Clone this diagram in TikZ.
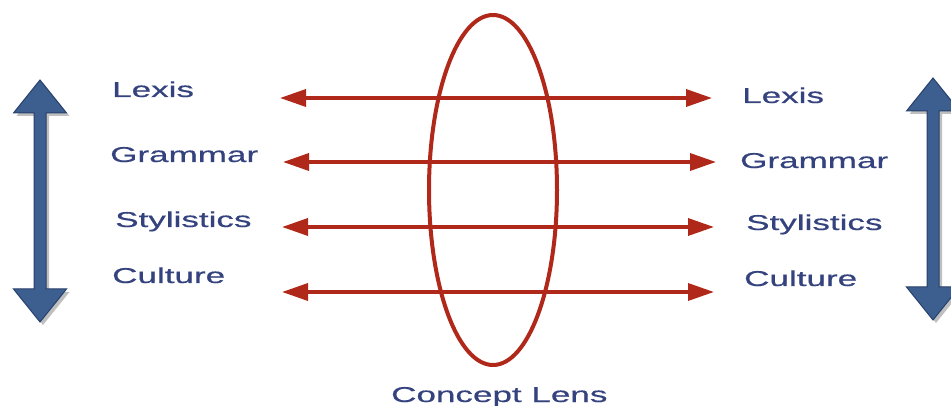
\documentclass[tikz,border=0pt]{standalone}
\usepackage{fontspec}
\setmainfont{Liberation Sans}[FakeBold=0.4]
\usetikzlibrary{arrows.meta}
\definecolor{navy}{HTML}{34427E}
\definecolor{lensred}{HTML}{B0281A}
\definecolor{barblue}{HTML}{3D5F90}
\definecolor{bardark}{HTML}{27406B}
\newcommand{\wide}[1]{\scalebox{1.63}[1]{#1}}
% vertical double arrow: x, top y, bottom y
\newcommand{\vbar}[3]{\fill[black!25] ({#1+3},{#2+3}) -- ({#1+29.5},{#2+36}) -- ({#1+9},{#2+36}) -- ({#1+9},{#3-30}) -- ({#1+29.5},{#3-30}) -- ({#1+3},{#3+3}) -- ({#1-23.5},{#3-30}) -- ({#1-3},{#3-30}) -- ({#1-3},{#2+36}) -- ({#1-23.5},{#2+36}) -- cycle;
\draw[bardark, fill=barblue, line width=1pt] (#1,#2) -- ({#1+26.5},{#2+33}) -- ({#1+6},{#2+33}) -- ({#1+6},{#3-33}) -- ({#1+26.5},{#3-33}) -- (#1,#3) -- ({#1-26.5},{#3-33}) -- ({#1-6},{#3-33}) -- ({#1-6},{#2+33}) -- ({#1-26.5},{#2+33}) -- cycle;}

\begin{document}
\begin{tikzpicture}[x=1pt, y=-1pt,
  label/.style={anchor=base west, inner sep=0pt, text=navy, font=\fontsize{21.5}{24}\selectfont},
  link/.style={lensred, line width=3.5pt, {Triangle[length=26pt, width=17pt]}-{Triangle[length=26pt, width=17pt]}}]
\useasboundingbox (0,0) rectangle (951,406);
\vbar{40}{80}{322}
\vbar{933}{78}{320}
% lens
\draw[lensred, line width=4pt] (493,190) ellipse [x radius=64, y radius=175];
% left labels
\node[label] (lexisL) at (112,97) {\wide{Lexis}};
\node[label] (grammarL) at (110,162) {\wide{Grammar}};
\node[label] (styleL) at (115,227) {\wide{Stylistics}};
\node[label] (cultureL) at (112,283) {\wide{Culture}};
% right labels
\node[label] (lexisR) at (742,103) {\wide{Lexis}};
\node[label] (grammarR) at (740,168) {\wide{Grammar}};
\node[label] (styleR) at (746,230) {\wide{Stylistics}};
\node[label] (cultureR) at (744,286) {\wide{Culture}};
\node[label] (lens) at (391,402) {\wide{Concept Lens}};
% arrow ends
\coordinate (a1) at (280,98);  \coordinate (b1) at (712,98);
\coordinate (a2) at (283,162); \coordinate (b2) at (716,162);
\coordinate (a3) at (282,227); \coordinate (b3) at (714,227);
\coordinate (a4) at (282,292); \coordinate (b4) at (714,292);
\foreach \i in {1,...,4} \draw[link] (a\i) -- (b\i);
\end{tikzpicture}
\end{document}
